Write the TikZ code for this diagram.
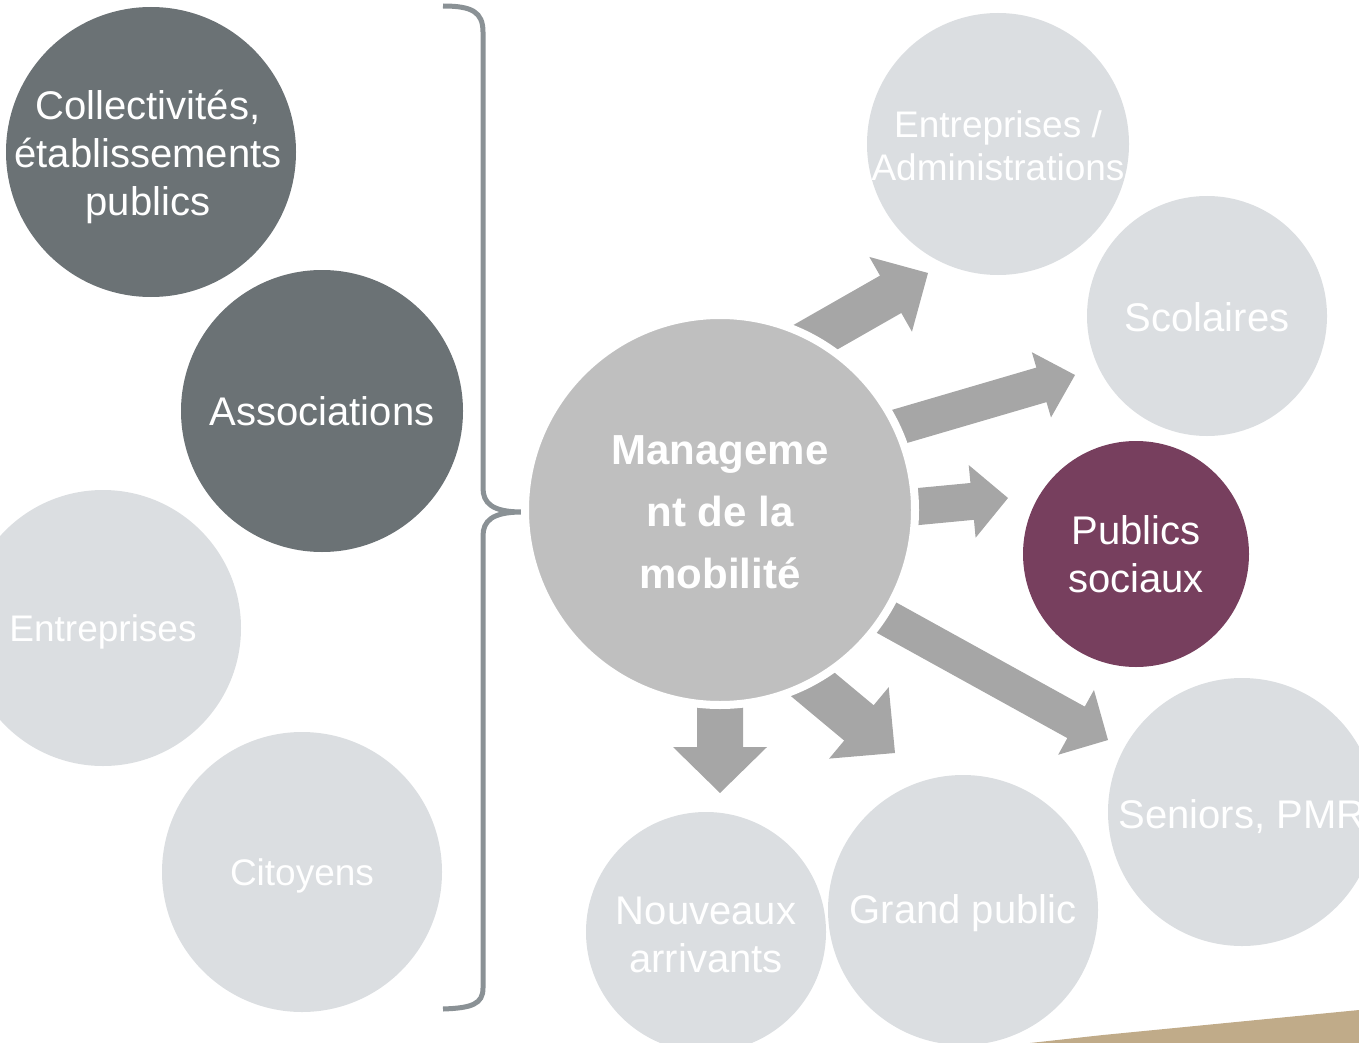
\documentclass[tikz,border=0pt]{standalone}
\usepackage{fontspec}
\setmainfont{Liberation Sans}
\usetikzlibrary{calc}

\definecolor{darkslate}{HTML}{6B7275}
\definecolor{paleslate}{HTML}{DBDEE1}
\definecolor{centregray}{HTML}{BFBFBF}
\definecolor{arrowgray}{HTML}{A6A6A6}
\definecolor{bracegray}{HTML}{8A9195}
\definecolor{plum}{HTML}{773F5E}
\definecolor{sand}{HTML}{C0AB89}

\tikzset{
  bubble/.style={circle, inner sep=0pt, minimum size=#1},
  dark/.style={bubble=#1, fill=darkslate},
  pale/.style={bubble=#1, fill=paleslate},
  tag/.style={text=white, align=center, inner sep=0pt, font=\fontsize{40}{48}\selectfont},
  smalltag/.style={tag, font=\fontsize{37}{43}\selectfont},
}

% block arrow: start, tip, half shaft, half head, head length
\newcommand{\fatarrow}[5]{%
  \coordinate (hb) at ($(#2)!#5!(#1)$);
  \fill[arrowgray] ($(#1)!#3!90:(#2)$) -- ($(hb)!#3!90:(#2)$) -- ($(hb)!#4!90:(#2)$) -- (#2)
    -- ($(hb)!#4!-90:(#2)$) -- ($(hb)!#3!-90:(#2)$) -- ($(#1)!#3!-90:(#2)$) -- cycle;}

\begin{document}
\begin{tikzpicture}[x=1pt, y=-1pt]
\useasboundingbox (0,0) rectangle (1359,1043);

% brace
\draw[bracegray, line width=5pt] (443,6) .. controls (472,6) and (483,12) .. (483,32) -- (483,488)
  .. controls (483,503) and (492,512) .. (522,512) .. controls (492,512) and (483,521) .. (483,536)
  -- (483,988) .. controls (483,1004) and (472,1008) .. (443,1009);

% arrows
\coordinate (a1s) at (789.5,352); \coordinate (a1t) at (928,273);
\coordinate (a2s) at (872,434.5); \coordinate (a2t) at (1075,375);
\coordinate (a3s) at (888,509.4); \coordinate (a3t) at (1008,498);
\coordinate (a4s) at (860,603);   \coordinate (a4t) at (1108,740);
\coordinate (a5s) at (789.5,665); \coordinate (a5t) at (895,753);
\coordinate (a6s) at (720,680);   \coordinate (a6t) at (720,793);
\fatarrow{a1s}{a1t}{21.5pt}{43pt}{43pt}
\fatarrow{a2s}{a2t}{18pt}{34pt}{35pt}
\fatarrow{a3s}{a3t}{18.5pt}{36.5pt}{36pt}
\fatarrow{a4s}{a4t}{18pt}{37pt}{36.5pt}
\fatarrow{a5s}{a5t}{23pt}{46.5pt}{47pt}
\fatarrow{a6s}{a6t}{23pt}{47pt}{46pt}

% centre
\node[bubble=390pt, fill=centregray, draw=white, line width=8pt,
  label={[tag, yshift=-2pt, font=\bfseries\fontsize{42}{62}\selectfont]center:{Manageme\\nt de la\\mobilité}}] (mgmt) at (720,510) {};

% left side
\node[dark=290pt, label={[tag, xshift=-3pt, yshift=-5pt]center:{Collectivités,\\établissements\\publics}}] (coll) at (151,152) {};
\node[dark=282pt, label={[tag]center:Associations}] (assoc) at (322,411) {};
\node[pale=276pt, label={[smalltag, yshift=-4pt]center:Entreprises}] (entr) at (103,628) {};
\node[pale=280pt, label={[smalltag, yshift=-4pt]center:Citoyens}] (cit) at (302,872) {};

% right side
\node[pale=262pt, label={[smalltag, yshift=-1.5pt]center:{Entreprises /\\Administrations}}] (admin) at (998,144) {};
\node[pale=240pt, label={[tag, yshift=-1pt]center:Scolaires}] (scol) at (1207,316) {};
\node[bubble=226pt, fill=plum, label={[tag]center:{Publics\\sociaux}}] (soc) at (1136,554) {};
\node[pale=268pt, label={[tag, yshift=-5pt]center:{Seniors, PMR}}] (senior) at (1242,812) {};
\node[pale=270pt, label={[tag, yshift=-3pt]center:{Grand public}}] (grand) at (963,910) {};
\node[pale=240pt, label={[tag, yshift=-3pt]center:{Nouveaux\\arrivants}}] (nouv) at (706,932) {};

\fill[sand] (1030,1043) -- (1103,1035) -- (1359,1010) -- (1359,1043) -- cycle;
\end{tikzpicture}
\end{document}
